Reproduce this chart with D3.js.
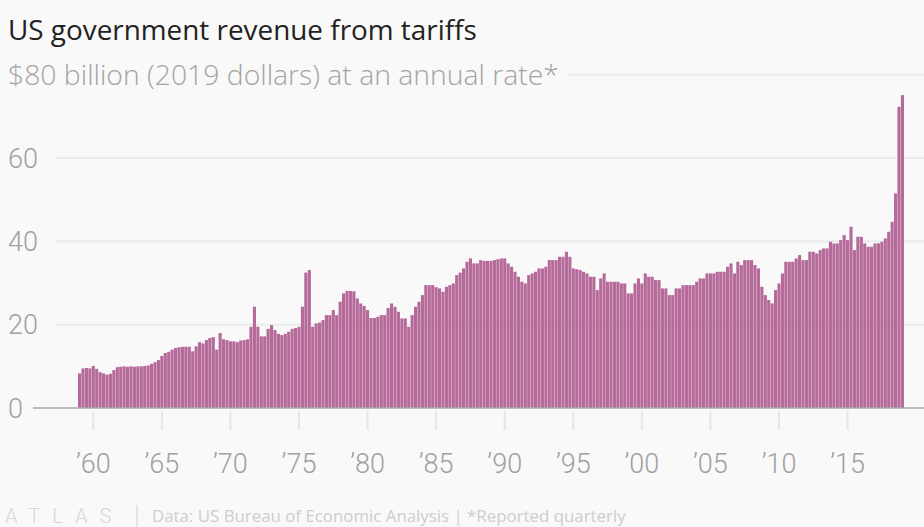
<!DOCTYPE html>
<html><head><meta charset="utf-8">
<script src="https://cdn.jsdelivr.net/npm/d3@7"></script>
<style>
html,body{margin:0;padding:0;background:#f9f9f9;}
svg{display:block;}
</style></head><body>
<svg id="chart" width="924" height="527"></svg>
<script>
// Years covered (quarterly data, 1959 Q1 – 2019 Q1)
const years = d3.range(1959, 2020);
// Tariff revenue, billions of 2019 dollars, annual rate
const values = [
  8.3, 9.5, 9.6, 9.5,      // 1959
  10.1, 9.4, 8.6, 8.3,     // 1960
  8.0, 8.2, 9.1, 9.8,      // 1961
  9.9, 10.0, 9.9, 10.0,    // 1962
  9.9, 10.0, 10.0, 10.1,   // 1963
  10.2, 10.6, 11.0, 11.5,  // 1964
  12.5, 13.2, 13.5, 14.0,  // 1965
  14.4, 14.6, 14.7, 14.7,  // 1966
  14.7, 13.6, 14.8, 15.8,  // 1967
  15.5, 16.3, 16.8, 17.0,  // 1968
  14.0, 18.0, 16.5, 16.3,  // 1969
  16.0, 16.0, 15.8, 16.2,  // 1970
  16.3, 16.5, 19.5, 24.3,  // 1971
  19.5, 17.2, 17.2, 19.0,  // 1972
  19.9, 18.7, 17.8, 17.5,  // 1973
  17.8, 18.3, 19.0, 19.2,  // 1974
  19.5, 24.3, 32.5, 33.1,  // 1975
  19.5, 20.3, 20.5, 21.1,  // 1976
  22.3, 22.3, 23.5, 22.3,  // 1977
  25.5, 27.5, 28.1, 28.1,  // 1978
  28.0, 26.3, 25.1, 24.5,  // 1979
  23.5, 21.6, 21.6, 21.9,  // 1980
  22.3, 22.3, 24.0, 25.1,  // 1981
  24.3, 23.1, 21.5, 21.5,  // 1982
  19.5, 22.3, 24.3, 25.5,  // 1983
  27.1, 29.5, 29.5, 29.5,  // 1984
  29.0, 28.7, 27.9, 29.1,  // 1985
  29.5, 29.9, 31.9, 32.5,  // 1986
  33.5, 35.1, 35.9, 34.7,  // 1987
  34.7, 35.5, 35.3, 35.3,  // 1988
  35.3, 35.5, 35.7, 35.9,  // 1989
  35.9, 34.7, 33.9, 32.7,  // 1990
  31.5, 30.3, 29.9, 31.9,  // 1991
  32.3, 32.7, 33.5, 33.5,  // 1992
  33.9, 35.5, 35.5, 35.5,  // 1993
  36.3, 36.3, 37.5, 36.3,  // 1994
  33.5, 33.3, 33.1, 32.7,  // 1995
  32.3, 31.5, 31.5, 28.3,  // 1996
  31.1, 32.3, 30.3, 30.3,  // 1997
  30.3, 30.3, 29.9, 29.9,  // 1998
  27.5, 27.5, 29.9, 31.1,  // 1999
  29.9, 32.3, 31.5, 31.5,  // 2000
  30.7, 30.7, 28.7, 28.7,  // 2001
  27.1, 27.1, 28.7, 28.7,  // 2002
  29.5, 29.5, 29.5, 29.5,  // 2003
  30.3, 31.1, 31.1, 32.3,  // 2004
  32.3, 32.3, 32.7, 32.7,  // 2005
  32.7, 33.9, 34.7, 32.3,  // 2006
  35.1, 34.3, 35.5, 35.5,  // 2007
  35.5, 34.3, 33.5, 29.1,  // 2008
  27.1, 25.9, 25.1, 28.3,  // 2009
  29.9, 32.3, 35.1, 35.1,  // 2010
  35.1, 35.9, 36.7, 35.5,  // 2011
  35.5, 37.5, 37.5, 37.1,  // 2012
  37.9, 38.3, 38.3, 39.9,  // 2013
  39.5, 39.5, 40.3, 41.5,  // 2014
  40.3, 43.5, 37.9, 41.1,  // 2015
  41.1, 39.5, 38.7, 38.7,  // 2016
  39.5, 39.5, 39.9, 40.7,  // 2017
  42.3, 44.7, 51.5, 72.3,  // 2018
  75.1                     // 2019
];
const yTicks = [0, 20, 40, 60, 80];
const tickYears = [1960, 1965, 1970, 1975, 1980, 1985, 1990, 1995, 2000, 2005, 2010, 2015];
const tickLabels = ["’60", "’65", "’70", "’75", "’80", "’85", "’90", "’95", "’00", "’05", "’10", "’15"];
const titleText = "US government revenue from tariffs";
const subtitleText = "$80 billion (2019 dollars) at an annual rate*";
const footerText = "Data: US Bureau of Economic Analysis | *Reported quarterly";

const quarters = [];
years.forEach(y => [1, 2, 3, 4].forEach(q => quarters.push(y + "Q" + q)));
const data = values.map((v, i) => ({ key: quarters[i], value: v }));

const svg = d3.select("#chart");
const W = 924, H = 527;
svg.append("rect").attr("width", W).attr("height", H).attr("fill", "#f9f9f9");

const x = d3.scaleBand().domain(data.map(d => d.key)).range([78, 904]).paddingInner(0.09);
const y = d3.scaleLinear().domain([0, 80]).range([408, 74.7]);

const fontNum = "Roboto, 'Noto Sans', sans-serif";
const fontTxt = "'Open Sans', 'Noto Sans', sans-serif";

function fit(sel, w) {
  const l = sel.node().getComputedTextLength();
  sel.attr("font-size", (+sel.attr("font-size")) * w / l);
}

// Title & subtitle
const t = svg.append("text").attr("x", 8).attr("y", 40)
  .attr("font-family", fontTxt).attr("font-size", 26).attr("fill", "#222")
  .text(titleText);
fit(t, 469);
const st = svg.append("text").attr("x", 8).attr("y", 85)
  .attr("font-family", fontTxt).attr("font-weight", 300).attr("font-size", 24).attr("fill", "#a3a3a3")
  .text(subtitleText);
fit(st, 551);
const stEnd = 8 + st.node().getComputedTextLength();

// Gridlines
svg.append("g").selectAll("line").data(yTicks.filter(v => v > 0)).join("line")
  .attr("x1", v => v === 80 ? stEnd + 8 : 55).attr("x2", W)
  .attr("y1", v => y(v)).attr("y2", v => y(v))
  .attr("stroke", "#ebebeb").attr("stroke-width", 2);

// Y labels
svg.append("g").selectAll("text").data(yTicks.filter(v => v < 80)).join("text")
  .attr("x", 8).attr("y", v => y(v)).attr("dy", "0.36em")
  .attr("font-family", fontNum).attr("font-weight", 300).attr("font-size", 27)
  .attr("fill", "#a0a0a0").text(v => v);

// Bars
svg.append("g").selectAll("rect").data(data).join("rect")
  .attr("x", d => x(d.key)).attr("width", x.bandwidth())
  .attr("y", d => y(d.value)).attr("height", d => y(0) - y(d.value))
  .attr("fill", "#b56a9a");

// Zero line
svg.append("line").attr("x1", 33).attr("x2", W).attr("y1", y(0)).attr("y2", y(0))
  .attr("stroke", "#a8a8a8").attr("stroke-width", 1.5);

// X axis
const xAxis = d3.axisBottom(x)
  .tickValues(tickYears.map(yr => yr + "Q1"))
  .tickFormat((d, i) => tickLabels[i])
  .tickSize(19).tickPadding(24);
const gx = svg.append("g").attr("transform", "translate(0,411)").call(xAxis);
gx.select(".domain").remove();
gx.selectAll(".tick line").attr("stroke", "#e6e6e6").attr("stroke-width", 2);
gx.selectAll(".tick text").attr("font-family", fontNum).attr("font-weight", 300)
  .attr("font-size", 27).attr("fill", "#a0a0a0");

// Footer
svg.append("text").attr("x", 5).attr("y", 523)
  .attr("font-family", fontNum).attr("font-weight", 300).attr("font-size", 20)
  .attr("letter-spacing", 12).attr("fill", "#d6d6d6").text("ATLAS");
svg.append("line").attr("x1", 137).attr("x2", 137).attr("y1", 505).attr("y2", 527)
  .attr("stroke", "#dcdcdc").attr("stroke-width", 1.5);
const ft = svg.append("text").attr("x", 152).attr("y", 522)
  .attr("font-family", fontTxt).attr("font-size", 14).attr("fill", "#cdcdcd")
  .text(footerText);
fit(ft, 474);
</script>
</body></html>
